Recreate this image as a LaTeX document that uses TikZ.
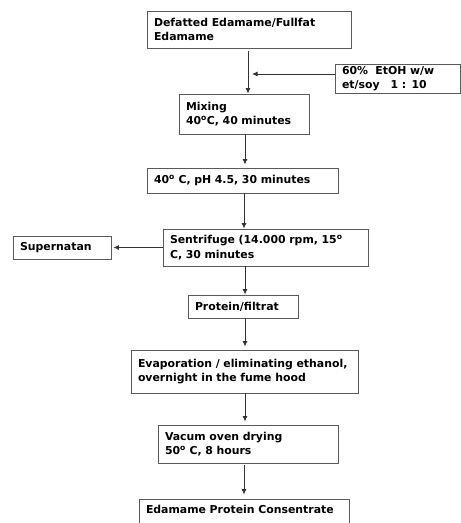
\documentclass[tikz,border=0pt]{standalone}
\usepackage{fontspec}
\setmainfont{DejaVu Sans}
\usepackage{xcolor}
\usetikzlibrary{arrows.meta}

\definecolor{linegray}{HTML}{5A5A5A}

\begin{document}
\begin{tikzpicture}[x=1pt, y=-1pt,
    stage/.style={draw=linegray, line width=0.9pt, rectangle, align=left, inner xsep=7pt, inner ysep=0pt,
        font=\fontsize{10.9}{14.6}\selectfont\bfseries},
    flow/.style={-{Latex[length=5.5pt,width=5pt]}, draw=black!80, line width=0.8pt}]
        \clip (0,0) rectangle (461,523);

        \node[stage, minimum width=204, minimum height=37, text width=190] (defat) at (249,29.5) {Defatted Edamame/Fullfat\\Edamame};
        \node[stage, minimum width=125, minimum height=29, text width=111] (solvent) at (397.5,78.5) {60\%\ \ EtOH w/w\\et/soy\ \ \ 1 : 10};
        \node[stage, minimum width=130, minimum height=40, text width=116] (mixing) at (244,114) {Mixing\\40\textsuperscript{o}C, 40 minutes};
        \node[stage, minimum width=191, minimum height=25, text width=177] (acid) at (242.5,180.5) {40\textsuperscript{o} C, pH 4.5, 30 minutes};
        \node[stage, minimum width=205, minimum height=37, text width=191] (centri) at (265.5,247.5) {Sentrifuge (14.000 rpm, 15\textsuperscript{o}\\C, 30 minutes};
        \node[stage, minimum width=98, minimum height=23, text width=84] (super) at (62,247.5) {Supernatan};
        \node[stage, minimum width=110, minimum height=23, text width=96] (filtrat) at (243,306.5) {Protein/filtrat};
        \node[stage, minimum width=227, minimum height=43, text width=213] (evap) at (244.5,371.5) {Evaporation / eliminating ethanol,\\overnight in the fume hood};
        \node[stage, minimum width=180, minimum height=38, text width=166] (drying) at (248,444) {Vacum oven drying\\50\textsuperscript{o} C, 8 hours};
        \node[stage, minimum width=210, minimum height=37, text width=196, text depth=16pt] (product) at (244,517.5) {Edamame\ Protein Consentrate};

        \coordinate (mixin) at (252,74);

        \draw[flow, shorten <=3pt] (defat.south -| 248,0) -- (mixing.north -| 248,0);
        \draw[flow] (solvent.west |- mixin) -- (mixin);
        \draw[flow, shorten >=3pt] (mixing.south -| 245,0) -- (acid.north -| 245,0);
        \draw[flow] (acid.south -| 244,0) -- (centri.north -| 244,0);
        \draw[flow, shorten >=2pt] (centri.west) -- (super.east);
        \draw[flow] (centri.south -| 245,0) -- (filtrat.north -| 245,0);
        \draw[flow, shorten >=3pt] (filtrat.south -| 245,0) -- (evap.north -| 245,0);
        \draw[flow, shorten >=3pt] (evap.south -| 245,0) -- (drying.north -| 245,0);
        \draw[flow, shorten <=2pt, shorten >=4pt] (drying.south -| 244,0) -- (product.north -| 244,0);
    \end{tikzpicture}
\end{document}
